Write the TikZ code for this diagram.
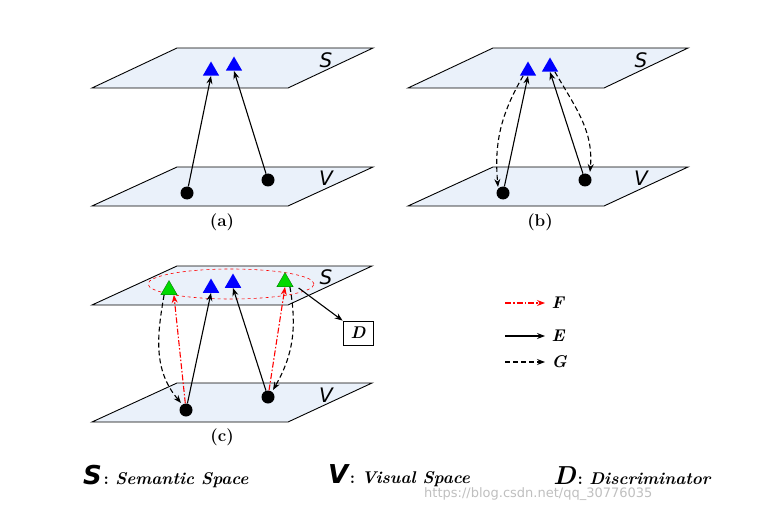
\documentclass[tikz,border=0pt]{standalone}
\usepackage{fontspec}
\newfontfamily\sansf{DejaVu Sans}
\usetikzlibrary{arrows.meta,shapes.geometric}
\definecolor{planefill}{RGB}{234,241,250}
\begin{document}
\begin{tikzpicture}[x=1pt,y=-1pt,
 plane/.style = {draw, line width=0.9pt, fill=planefill},
 blue tri/.style = {regular polygon, regular polygon sides=3,
   fill=blue, inner sep=0pt, minimum size=19pt},
 green tri/.style = {blue tri, fill=green!85!black, draw=green!40!black, line width=0.3pt},
 dot/.style = {circle, fill=black, inner sep=0pt, minimum size=13pt},
 spacelabel/.style = {font=\sansf\fontsize{20}{22}\selectfont\itshape},
 caption/.style = {font=\fontsize{17}{20}\selectfont\bfseries},
 keyfont/.style = {font=\fontsize{17}{20}\selectfont\bfseries\itshape},
 E/.style = {-{Stealth[length=8pt,width=6pt]}, line width=1.1pt},
 G/.style = {-{Stealth[length=8pt,width=6pt]}, dash pattern=on 5pt off 3pt, line width=1.1pt},
 F/.style = {-{Stealth[length=8pt,width=6pt]}, dash pattern=on 6pt off 2pt on 1.5pt off 2pt, red, line width=1.1pt}]
\useasboundingbox (0,0) rectangle (765,513);
% panel (a)
\draw[plane] (177,48) -- (373,48) -- (288,88) -- (92,88) -- cycle;
\draw[plane] (177,167) -- (373,167) -- (288,206) -- (92,206) -- cycle;
\node[spacelabel] (aS) at (326,60) {S};
\node[spacelabel] (aV) at (326,178) {V};
\node[blue tri] (at1) at (211,71) {};
\node[blue tri] (at2) at (234,66) {};
\node[dot] (ad1) at (187,193) {};
\node[dot] (ad2) at (268,180) {};
\draw[E] (ad1) -- (at1.south);
\draw[E] (ad2) -- (at2.south);
\node[caption] (acap) at (222,222) {(a)};
% panel (b)
\draw[plane] (493,48) -- (688,48) -- (604,88) -- (408,88) -- cycle;
\draw[plane] (493,167) -- (688,167) -- (604,206) -- (408,206) -- cycle;
\node[spacelabel] (bS) at (641,60) {S};
\node[spacelabel] (bV) at (641,178) {V};
\node[blue tri] (bt1) at (528,71) {};
\node[blue tri] (bt2) at (550,67) {};
\node[dot] (bd1) at (503,193) {};
\node[dot] (bd2) at (585,180) {};
\draw[E] (bd1) -- (bt1.south);
\draw[E] (bd2) -- (bt2.south);
\draw[G] (bt1.south west) to[out=240,in=95] (498,187);
\draw[G] (bt2.south east) to[out=-60,in=85] (590,172);
\node[caption] (bcap) at (540,222) {(b)};
% panel (c)
\draw[plane] (177,266) -- (372,266) -- (288,305) -- (92,305) -- cycle;
\draw[plane] (177,383) -- (372,383) -- (288,422) -- (92,422) -- cycle;
\node[spacelabel] (cS) at (326,277) {S};
\node[spacelabel] (cV) at (326,395) {V};
\node[ellipse, draw=red, dashed, line width=0.6pt, minimum width=166pt, minimum height=30pt] (cell) at (231,284) {};
\node[green tri] (cg1) at (169,290) {};
\node[green tri] (cg2) at (285,282) {};
\node[blue tri] (ct1) at (211,288) {};
\node[blue tri] (ct2) at (233,283) {};
\node[dot] (cd1) at (186,410) {};
\node[dot] (cd2) at (268,397) {};
\node[draw, fill=white, line width=0.8pt, minimum width=30pt, minimum height=24pt, keyfont] (D) at (358,333) {D};
\draw[E] (cd1) -- (ct1.south);
\draw[E] (cd2) -- (ct2.south);
\draw[F] (cd1) -- (cg1.south east);
\draw[F] (cd2) -- (cg2.south);
\draw[G] (cg1.south west) to[out=260,in=130] (181,403);
\draw[G] (cg2.south east) to[out=-80,in=60] (273,390);
\draw[E] (cg2.east) ++(8,6) coordinate (cDs) (cDs) -- (D.north west);
\node[caption] (ccap) at (222,437) {(c)};
% legend
\coordinate (fl) at (505,303); \coordinate (fr) at (545,303);
\coordinate (el) at (505,336); \coordinate (er) at (545,336);
\coordinate (gl) at (505,362); \coordinate (gr) at (545,362);
\draw[F] (fl) -- (fr);
\draw[E] (el) -- (er);
\draw[G] (gl) -- (gr);
\node[right, keyfont] (Fl) at (548,303) {F};
\node[right, keyfont] (El) at (548,336) {E};
\node[right, keyfont] (Gl) at (548,362) {G};
% key
\node[right, inner sep=0pt] (kS) at (83,476) {{\sansf\fontsize{26}{28}\selectfont\bfseries\itshape S}\,{\fontsize{17}{20}\selectfont\bfseries : \itshape Semantic Space}};
\node[right, inner sep=0pt] (kV) at (328,476) {{\sansf\fontsize{26}{28}\selectfont\bfseries\itshape V}\,{\fontsize{17}{20}\selectfont\bfseries : \itshape Visual Space}};
\node[right, inner sep=0pt] (kD) at (553,476) {{\fontsize{26}{28}\selectfont\bfseries\itshape D}\,{\fontsize{17}{20}\selectfont\bfseries : \itshape Discriminator}};
\node[right, inner sep=0pt, text=black!25, font=\sansf\fontsize{13}{15}\selectfont] (wm) at (424,494) {https://blog.csdn.net/qq\_30776035};
\end{tikzpicture}
\end{document}
